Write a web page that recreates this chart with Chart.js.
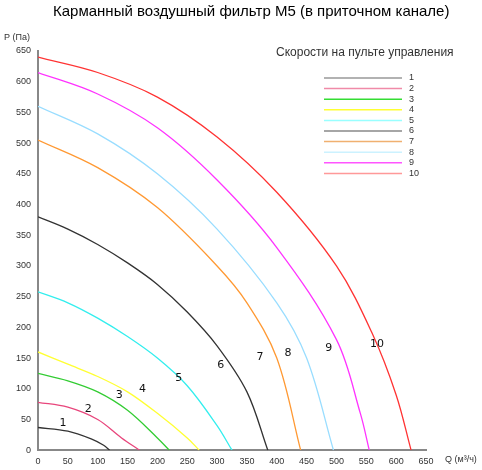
<!DOCTYPE html>
<html>
<head>
<meta charset="utf-8">
<script src="https://cdn.jsdelivr.net/npm/chart.js@4"></script>
<style>
  body { margin: 0; background: #fff; }
</style>
</head>
<body>
<canvas id="chart" width="482" height="470"></canvas>
<script>
// кривые скоростей 1..10, [Q, P]
const speeds = ['1', '2', '3', '4', '5', '6', '7', '8', '9', '10'];
const curve1 = [[0, 37], [50, 31], [90, 18], [110, 8], [120, 0]];
const curve2 = [[0, 78], [50, 70], [100, 50], [140, 20], [170, 0]];
const curve3 = [[0, 125], [50, 113], [100, 95], [150, 65], [200, 20], [220, 0]];
const curve4 = [[0, 160], [50, 140], [100, 120], [150, 95], [200, 60], [250, 20], [270, 0]];
const curve5 = [[0, 258], [50, 240], [100, 215], [150, 185], [200, 150], [250, 105], [300, 40], [325, 0]];
const curve6 = [[0, 380], [50, 360], [100, 335], [150, 305], [200, 270], [250, 225], [300, 170], [350, 95], [385, 0]];
const curve7 = [[0, 505], [100, 460], [200, 395], [300, 300], [350, 240], [400, 150], [440, 0]];
const curve8 = [[0, 560], [100, 515], [200, 450], [300, 360], [400, 240], [450, 150], [495, 0]];
const curve9 = [[0, 615], [100, 580], [200, 525], [300, 440], [400, 330], [500, 180], [540, 60], [555, 0]];
const curve10 = [[0, 640], [100, 615], [200, 575], [300, 510], [400, 420], [500, 300], [560, 190], [600, 90], [625, 0]];
const curves = [curve1, curve2, curve3, curve4, curve5, curve6, curve7, curve8, curve9, curve10];
// где стоят цифры у кривых
const labelPos = [[42, 44], [84, 67], [136, 89], [175, 100], [236, 117], [306, 138], [372, 152], [419, 158], [487, 166], [568, 173]];
const colors = ['#333333', '#e8467c', '#33cc33', '#ffff33', '#33eeee', '#333333', '#ff9933', '#99ddff', '#ff33ff', '#ff3333'];
const legendColors = ['#999999', '#f08aa8', '#33dd33', '#ffff33', '#99ffff', '#888888', '#f0b070', '#ccf2ff', '#ff55ff', '#ff9999'];

const extras = {
  id: 'extras',
  afterDraw(chart) {
    const c = chart.ctx;
    const xs = chart.scales.x, ys = chart.scales.y;
    c.save();
    c.fillStyle = '#000';
    c.font = '15px "Liberation Sans", Arial';
    c.textAlign = 'left';
    c.textBaseline = 'middle';
    c.fillText('Карманный воздушный фильтр М5 (в приточном канале)', 53, 12);
    c.font = '9px "Liberation Sans", Arial';
    c.fillStyle = '#333';
    c.fillText('P (Па)', 4, 38);
    c.fillText('Q (м³/ч)', 445, 460);
    c.font = '12px "Liberation Sans", Arial';
    c.fillText('Скорости на пульте управления', 276, 53);
    c.font = '9px "Liberation Sans", Arial';
    speeds.forEach((s, i) => {
      const y = 78 + i * 10.6;
      c.strokeStyle = legendColors[i];
      c.lineWidth = 1.5;
      c.beginPath();
      c.moveTo(324, y);
      c.lineTo(402, y);
      c.stroke();
      c.fillText(s, 409, y);
    });
    c.font = '11px "DejaVu Sans", sans-serif';
    c.fillStyle = '#111';
    c.textAlign = 'center';
    labelPos.forEach((p, i) => {
      c.fillText(speeds[i], xs.getPixelForValue(p[0]), ys.getPixelForValue(p[1]));
    });
    c.restore();
  }
};

new Chart(document.getElementById('chart'), {
  type: 'scatter',
  data: {
    datasets: curves.map((pts, i) => ({
      label: speeds[i],
      data: pts.map(p => ({ x: p[0], y: p[1] })),
      showLine: true,
      borderColor: colors[i],
      borderWidth: 1.3,
      pointRadius: 0,
      tension: 0.35
    }))
  },
  options: {
    responsive: false,
    animation: false,
    layout: { padding: { left: 0, right: 56, top: 51, bottom: 0 } },
    plugins: { legend: { display: false }, tooltip: { enabled: false } },
    scales: {
      x: {
        min: 0, max: 650,
        grid: { display: false, drawTicks: true, tickLength: 3, tickColor: '#33cccc' },
        border: { color: '#888', width: 2 },
        ticks: { stepSize: 50, color: '#333', font: { size: 9 }, padding: 3 }
      },
      y: {
        min: 0, max: 650,
        afterFit: s => { s.width = 38; },
        grid: { display: false, tickLength: 3 },
        border: { color: '#888', width: 2 },
        ticks: { stepSize: 50, color: '#333', font: { size: 9 }, padding: 4 }
      }
    }
  },
  plugins: [extras]
});
</script>
</body>
</html>
